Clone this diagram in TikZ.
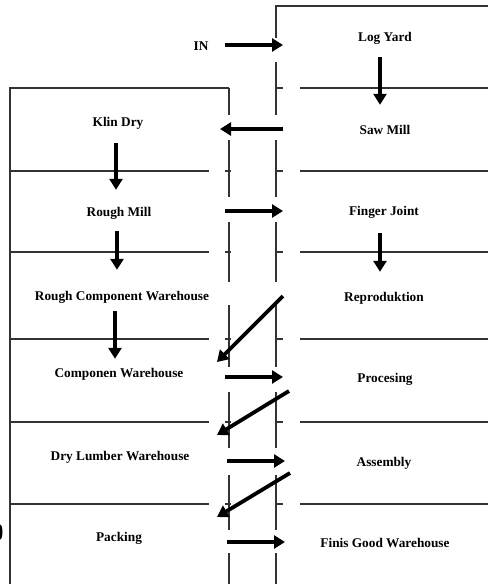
\documentclass[tikz,border=0pt]{standalone}
\usepackage{fontspec}
\setmainfont{Liberation Serif}
\usetikzlibrary{arrows.meta}

\tikzset{
  wall/.style={line width=1.2pt, black!80},
  flow/.style={line width=3.8pt, -{Triangle[length=11pt,width=13pt]}},
  lbl/.style={font=\bfseries\fontsize{13.3}{15}\selectfont, inner sep=1pt, text height=11pt, text depth=1pt}
}

\begin{document}
\begin{tikzpicture}[x=1pt,y=-1pt]
    \useasboundingbox (0,0) rectangle (488,584);

    % the two halls
    \draw [wall] (276,38) -- (276,6) -- (488,6);
    \draw [wall] (276,62) -- (276,88);
    \draw [wall] (10,584) -- (10,88) -- (229,88);
    \foreach \a/\b in {88/115,140/197,222/282,305/367,392/448,475/530,553/584}{
        \draw [wall] (229,\a) -- (229,\b);
        \draw [wall] (276,\a) -- (276,\b);
    }

    % rows
    \foreach \y in {88,171,252,339,422,504}{
        \draw [wall] (276,\y) -- (283,\y);
        \draw [wall] (300,\y) -- (488,\y);
    }
    \foreach \y in {171,252,339,422,504}{
        \draw [wall] (10,\y) -- (209,\y);
        \draw [wall] (225,\y) -- (231,\y);
    }
    \fill (0,532) ellipse (2.5 and 7.5);

    \coordinate (gapL) at (225,0);
    \coordinate (gapR) at (283,0);
    \coordinate (tipL) at (217,0);

    % right hall
    \node [lbl] (logyard) at (385,36) {Log Yard};
    \node [lbl] (sawmill) at (385,129) {Saw Mill};
    \node [lbl] (fingerjoint) at (384,210) {Finger Joint};
    \node [lbl] (repro) at (384,296) {Reproduktion};
    \node [lbl] (procesing) at (385,377) {Procesing};
    \node [lbl] (assembly) at (384,461) {Assembly};
    \node [lbl] (finis) at (385,542) {Finis Good Warehouse};

    % left hall
    \node [lbl] (in) at (201,45) {IN};
    \node [lbl] (klin) at (118,121) {Klin Dry};
    \node [lbl] (roughmill) at (119,211) {Rough Mill};
    \node [lbl] (roughcomp) at (122,295) {Rough Component Warehouse};
    \node [lbl] (componen) at (119,372) {Componen Warehouse};
    \node [lbl] (drylumber) at (120,455) {Dry Lumber Warehouse};
    \node [lbl] (packing) at (119,536) {Packing};

    % flow down each hall
    \draw [flow] ([xshift=-5pt,yshift=-14pt]logyard.south) -- ([xshift=-5pt,yshift=17pt]logyard.south |- sawmill.north);
    \draw [flow] ([xshift=-4pt,yshift=-16pt]fingerjoint.south) -- ([xshift=-4pt,yshift=17pt]fingerjoint.south |- repro.north);
    \draw [flow] ([xshift=-2pt,yshift=-15pt]klin.south) -- ([xshift=-2pt,yshift=14pt]klin.south |- roughmill.north);
    \draw [flow] ([xshift=-2pt,yshift=-13pt]roughmill.south) -- ([xshift=-2pt,yshift=18pt]roughmill.south |- roughcomp.north);
    \draw [flow] ([xshift=-4pt,yshift=-9pt]roughmill.south |- roughcomp.south) -- ([xshift=-4pt,yshift=6pt]componen.north);

    % flow between the halls
    \draw [flow] (in -| gapL) -- (in -| gapR);
    \draw [flow] (sawmill -| gapR) -- ([xshift=3pt]sawmill -| tipL);
    \draw [flow] (roughmill -| gapL) -- (roughmill -| gapR);
    \draw [flow] (repro -| gapR) -- ([yshift=10pt]componen -| tipL);
    \draw [flow] (procesing -| gapL) -- (procesing -| gapR);
    \draw [flow] ([xshift=6pt,yshift=-14pt]procesing -| gapR) -- ([yshift=20pt]drylumber -| tipL);
    \draw [flow] ([xshift=2pt]assembly -| gapL) -- ([xshift=2pt]assembly -| gapR);
    \draw [flow] ([xshift=7pt,yshift=-12pt]assembly -| gapR) -- ([yshift=19pt]packing -| tipL);
    \draw [flow] ([xshift=2pt]finis -| gapL) -- ([xshift=2pt]finis -| gapR);
\end{tikzpicture}
\end{document}
